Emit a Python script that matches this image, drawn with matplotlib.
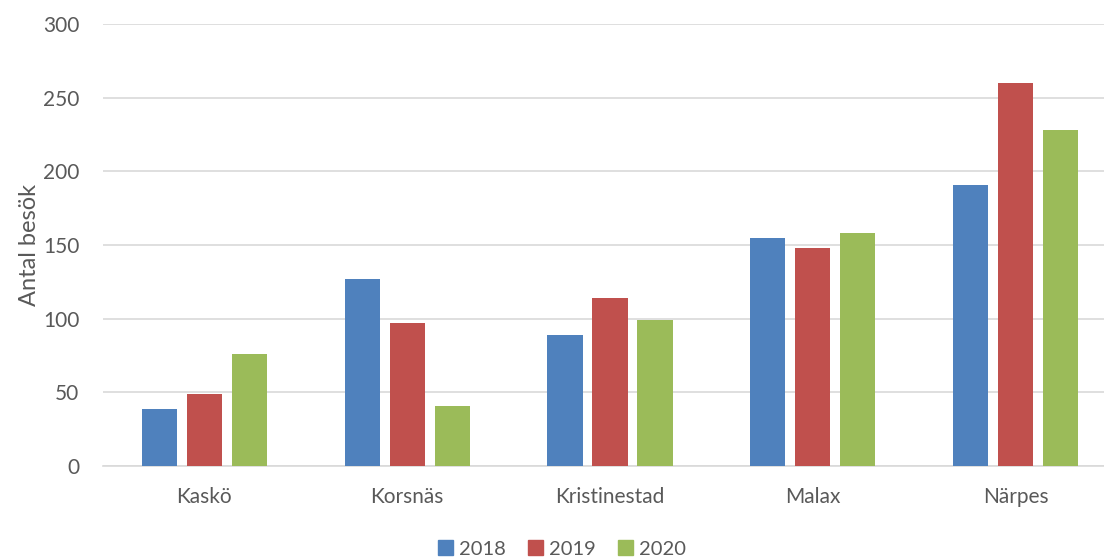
import numpy as np
import matplotlib.pyplot as plt
from matplotlib.patches import Patch

plt.rcParams['font.family'] = ['Lato', 'DejaVu Sans']

categories = ["Kaskö", "Korsnäs", "Kristinestad", "Malax", "Närpes"]
years = ["2018", "2019", "2020"]
v2018 = [39, 127, 89, 155, 191]
v2019 = [49, 97, 114, 148, 260]
v2020 = [76, 41, 99, 158, 228]

colors = ["#4f81bd", "#c0504d", "#9bbb59"]
text_c = "#595959"

fig = plt.figure(figsize=(11.04, 5.59), dpi=100)
# plot area runs past the right edge of the image, like the original
ax = fig.add_axes([103 / 1104, 1 - 466 / 559, 1014 / 1104, 442 / 559])

x = np.arange(len(categories))
w = 0.173
step = 0.222
for i, (vals, c) in enumerate(zip([v2018, v2019, v2020], colors)):
    ax.bar(x + (i - 1) * step, vals, width=w, color=c, zorder=3)

ax.set_xlim(-0.5, len(categories) - 0.5)
ax.set_ylim(0, 300)
ax.set_yticks(range(0, 301, 50))
ax.set_xticks(x)
ax.set_xticklabels(categories)
ax.yaxis.grid(True, color="#d9d9d9", linewidth=1.2, zorder=0)
ax.tick_params(axis="both", length=0, labelsize=15, colors=text_c)
ax.tick_params(axis="y", pad=17)
ax.tick_params(axis="x", pad=15)
for s in ["top", "right", "left"]:
    ax.spines[s].set_visible(False)
ax.spines["bottom"].set_color("#d9d9d9")
ax.spines["bottom"].set_linewidth(1.2)
ax.set_ylabel("Antal besök", fontsize=17, color=text_c, labelpad=2)

handles = [Patch(color=c, label=y) for c, y in zip(colors, years)]
fig.legend(handles=handles, loc="center", bbox_to_anchor=(562 / 1104, 1 - 549 / 559),
           ncol=3, frameon=False, fontsize=14.5, labelcolor=text_c,
           handlelength=0.75, handleheight=0.75, handletextpad=0.3, columnspacing=1.1)

fig.savefig("out.png", dpi=100)
